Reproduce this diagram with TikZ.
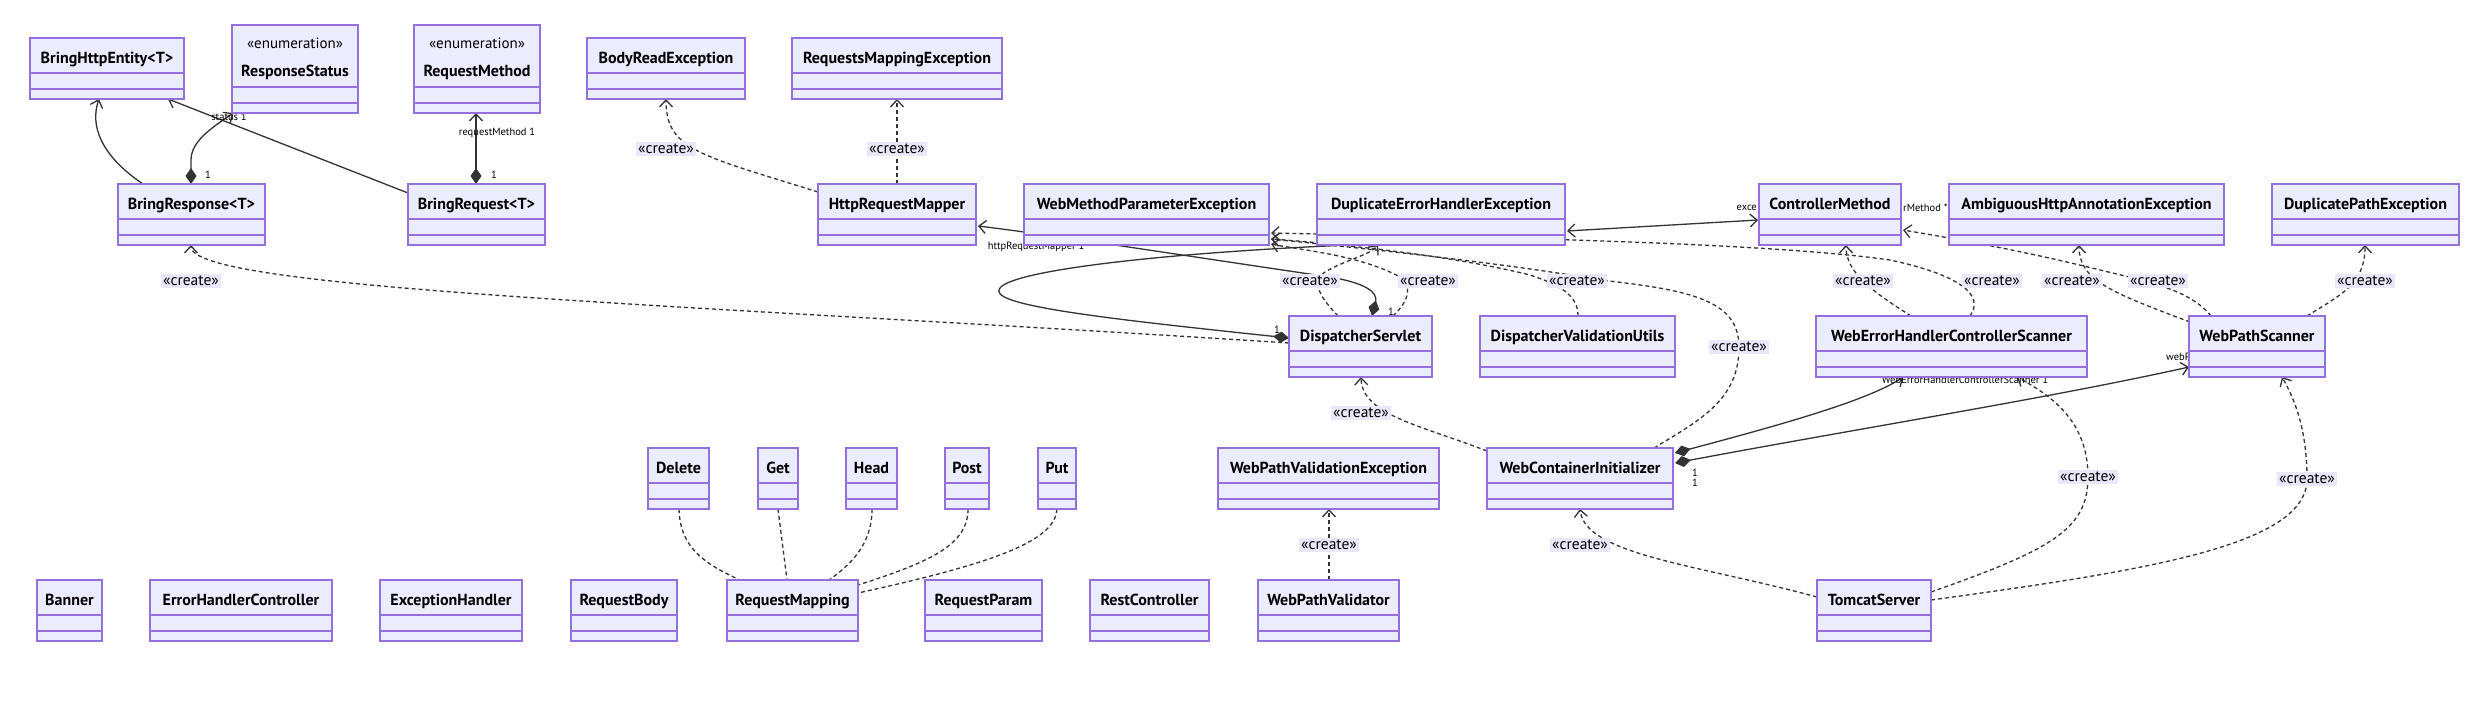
\documentclass[tikz,border=0pt]{standalone}
\usepackage{fontspec}
\setmainfont{PT Sans}
\usetikzlibrary{arrows.meta,calc,backgrounds}
\definecolor{nodefill}{HTML}{ECECFF}
\definecolor{nodeborder}{HTML}{9370DB}
\definecolor{edgecol}{HTML}{333333}
\definecolor{lblfill}{HTML}{E8E8FA}
\pgfdeclarelayer{edges}
\pgfsetlayers{background,edges,main}
\tikzset{
  classbox/.style={draw=nodeborder, fill=nodefill, line width=1.6pt, inner sep=0pt, outer sep=0pt},
  classsep/.style={draw=nodeborder, line width=1.6pt},
  classtitle/.style={font=\fontsize{16}{19}\selectfont\bfseries, text=black, anchor=base, inner sep=0pt},
  stereo/.style={font=\fontsize{15}{18}\selectfont, text=black, anchor=base, inner sep=0pt},
  edgeline/.style={draw=edgecol, line width=1.3pt},
  assoc/.style={edgeline, -{Straight Barb[length=7pt,width=13pt]}},
  comp/.style={edgeline, {Diamond[length=16pt,width=11pt,fill=edgecol]}-{Straight Barb[length=7pt,width=13pt]}},
  compstart/.style={edgeline, {Diamond[length=16pt,width=11pt,fill=edgecol]}-},
  twoway/.style={edgeline, {Straight Barb[length=7pt,width=13pt]}-{Straight Barb[length=7pt,width=13pt]}},
  dep/.style={edgeline, dash pattern=on 4pt off 3pt, -{Straight Barb[length=7pt,width=13pt]}},
  link/.style={edgeline, dash pattern=on 4pt off 3pt},
  createlbl/.style={fill=lblfill, font=\fontsize{15.5}{17}\selectfont, text=black, inner xsep=2pt, inner ysep=2pt},
  card/.style={font=\fontsize{10.5}{12}\selectfont, text=black, inner sep=0pt},
}
\newcommand{\umlclass}[6]{%
  \node[classbox, minimum width={(#4)-(#2)}, minimum height={(#5)-(#3)}] (#1) at ({((#2)+(#4))/2},{((#3)+(#5))/2}) {};
  \node[classtitle] (#1-t) at ({((#2)+(#4))/2},{(#3)+25}) {#6};
  \draw[classsep] (#2,{(#5)-26}) -- (#4,{(#5)-26}) (#2,{(#5)-10}) -- (#4,{(#5)-10});
}
\newcommand{\umlenum}[6]{%
  \node[classbox, minimum width={(#4)-(#2)}, minimum height={(#5)-(#3)}] (#1) at ({((#2)+(#4))/2},{((#3)+(#5))/2}) {};
  \node[stereo] (#1-s) at ({((#2)+(#4))/2},{(#3)+23}) {«enumeration»};
  \node[classtitle] (#1-t) at ({((#2)+(#4))/2},{(#3)+51}) {#6};
  \draw[classsep] (#2,{(#5)-26}) -- (#4,{(#5)-26}) (#2,{(#5)-10}) -- (#4,{(#5)-10});
}
\begin{document}
\begin{tikzpicture}[x=1pt,y=-1pt]
\begin{pgfonlayer}{background}
\fill[white] (0,0) rectangle (2484,712);
\end{pgfonlayer}
\useasboundingbox (0,0) rectangle (2484,712);

% ---------- classes ----------
\umlclass{bhe}{30}{38}{184}{99}{BringHttpEntity<T>}
\umlenum{rs}{232}{25}{358}{113}{ResponseStatus}
\umlenum{rm}{414}{25}{540}{113}{RequestMethod}
\umlclass{bre}{587}{38}{745}{99}{BodyReadException}
\umlclass{rme}{792}{38}{1002}{99}{RequestsMappingException}
\umlclass{bresp}{118}{184}{265}{245}{BringResponse<T>}
\umlclass{breq}{408}{184}{545}{245}{BringRequest<T>}
\umlclass{hrm}{818}{184}{976}{245}{HttpRequestMapper}
\umlclass{wmpe}{1024}{184}{1269}{245}{WebMethodParameterException}
\umlclass{dehe}{1317}{184}{1565}{245}{DuplicateErrorHandlerException}
\umlclass{cm}{1759}{184}{1901}{245}{ControllerMethod}
\umlclass{ahae}{1949}{184}{2224}{245}{AmbiguousHttpAnnotationException}
\umlclass{dpe}{2272}{184}{2459}{245}{DuplicatePathException}
\umlclass{ds}{1289}{316}{1432}{377}{DispatcherServlet}
\umlclass{dvu}{1480}{316}{1675}{377}{DispatcherValidationUtils}
\umlclass{wehcs}{1816}{316}{2087}{377}{WebErrorHandlerControllerScanner}
\umlclass{wps}{2189}{316}{2325}{377}{WebPathScanner}
\umlclass{del}{648}{448}{709}{509}{Delete}
\umlclass{get}{758}{448}{798}{509}{Get}
\umlclass{head}{846}{448}{897}{509}{Head}
\umlclass{post}{945}{448}{989}{509}{Post}
\umlclass{put}{1038}{448}{1076}{509}{Put}
\umlclass{wpve}{1218}{448}{1439}{509}{WebPathValidationException}
\umlclass{wci}{1487}{448}{1673}{509}{WebContainerInitializer}
\umlclass{banner}{37}{580}{102}{641}{Banner}
\umlclass{ehc}{150}{580}{332}{641}{ErrorHandlerController}
\umlclass{eh}{380}{580}{522}{641}{ExceptionHandler}
\umlclass{rb}{571}{580}{677}{641}{RequestBody}
\umlclass{rmap}{727}{580}{858}{641}{RequestMapping}
\umlclass{rp}{925}{580}{1042}{641}{RequestParam}
\umlclass{rc}{1090}{580}{1209}{641}{RestController}
\umlclass{wpv}{1258}{580}{1399}{641}{WebPathValidator}
\umlclass{ts}{1817}{580}{1931}{641}{TomcatServer}

% ---------- connectors (drawn below the classes) ----------
\begin{pgfonlayer}{edges}
\draw[assoc] ($(bresp.north west)+(25,0)$) .. controls (100,155) and (90,125) .. ($(bhe.south west)+(69,0)$);
\draw[assoc] ($(breq.north west)+(0,9)$) -- ($(bhe.south west)+(138,0)$);
\draw[comp] ($(bresp.north west)+(73,0)$) -- (191,160) .. controls (191,140) and (215,126) .. ($(rs.south west)+(1,0)$);
\draw[comp] ($(breq.north west)+(68,0)$) -- ($(rm.south west)+(62,0)$);
\draw[dep] ($(hrm.north west)+(0,8)$) .. controls (700,155) and (666,150) .. ($(bre.south west)+(79,0)$);
\draw[dep] ($(hrm.north west)+(79,0)$) -- ($(rme.south west)+(105,0)$);
\draw[dep] ($(ds.north west)+(0,27)$) .. controls (700,305) and (191,290) .. ($(bresp.south west)+(73,0)$);
\draw[comp] ($(ds.north west)+(83,0)$) .. controls (1378,292) and (1365,283) .. (1330,277) .. controls (1200,258) and (1060,236) .. ($(hrm.north east)+(2,42)$);
\draw[compstart] ($(ds.north west)+(0,22)$) .. controls (1100,318) and (985,305) .. (1000,288) .. controls (1015,268) and (1200,250) .. ($(dehe.south west)+(60,-1)$);
\draw[twoway] ($(dehe.north east)+(2,47)$) -- ($(cm.north west)+(-1,36)$);
\draw[dep] ($(wehcs.north west)+(95,0)$) .. controls (1870,290) and (1846,272) .. ($(cm.south west)+(87,0)$);
\draw[dep] ($(wehcs.north west)+(154,0)$) .. controls (1985,295) and (1960,275) .. (1890,260) .. controls (1750,240) and (1400,236) .. ($(wmpe.north east)+(2,49)$);
\draw[dep] ($(wps.north west)+(22,0)$) .. controls (2190,290) and (2150,282) .. (2100,270) .. controls (2020,250) and (1950,238) .. ($(cm.north east)+(2,46)$);
\draw[dep] ($(wps.north west)+(1,6)$) .. controls (2110,292) and (2079,280) .. ($(ahae.south west)+(130,0)$);
\draw[dep] ($(wps.north west)+(118,0)$) .. controls (2340,295) and (2365,285) .. ($(dpe.south west)+(93,0)$);
\draw[dep] ($(ds.north west)+(49,0)$) .. controls (1318,295) and (1312,282) .. (1325,272) .. controls (1345,260) and (1370,255) .. ($(dehe.south west)+(61,0)$);
\draw[dep] ($(ds.north west)+(104,0)$) .. controls (1410,300) and (1412,285) .. (1400,277) .. controls (1360,255) and (1300,250) .. ($(wmpe.north east)+(2,60)$);
\draw[dep] ($(dvu.north west)+(98,0)$) .. controls (1578,295) and (1560,285) .. (1530,275) .. controls (1450,255) and (1330,243) .. ($(wmpe.north east)+(2,55)$);
\draw[dep] ($(wci.north west)+(167,0)$) .. controls (1700,420) and (1739,400) .. (1739,347) .. controls (1739,300) and (1690,290) .. (1600,280) .. controls (1500,262) and (1330,245) .. ($(wmpe.north east)+(2,55)$);
\draw[dep] ($(wci.north west)+(0,3)$) .. controls (1420,425) and (1362,415) .. ($(ds.south west)+(72,0)$);
\draw[comp] ($(wci.north east)+(2,5)$) .. controls (1780,425) and (1870,400) .. ($(wehcs.south west)+(87,0)$);
\draw[comp] ($(wci.north east)+(2,15)$) .. controls (1850,430) and (2050,398) .. ($(wps.north west)+(0,51)$);
\draw[dep] ($(wpv.north west)+(71,0)$) -- ($(wpve.south west)+(111,0)$);
\draw[dep] ($(ts.north west)+(0,17)$) .. controls (1700,565) and (1585,555) .. ($(wci.south west)+(93,0)$);
\draw[dep] ($(ts.north east)+(0,12)$) .. controls (2050,550) and (2088,530) .. (2088,477) .. controls (2088,420) and (2050,395) .. ($(wehcs.south west)+(201,0)$);
\draw[dep] ($(ts.north east)+(0,20)$) .. controls (2150,570) and (2307,545) .. (2307,479) .. controls (2307,430) and (2295,400) .. ($(wps.south west)+(93,0)$);
\draw[link] ($(del.south west)+(31,0)$) .. controls (680,545) and (700,562) .. ($(rmap.north west)+(13,0)$);
\draw[link] ($(get.south west)+(20,0)$) -- ($(rmap.north west)+(60,0)$);
\draw[link] ($(head.south west)+(26,0)$) .. controls (872,545) and (850,565) .. ($(rmap.north west)+(102,0)$);
\draw[link] ($(post.south west)+(23,0)$) .. controls (968,545) and (930,562) .. ($(rmap.north east)+(0,5)$);
\draw[link] ($(put.south west)+(19,0)$) .. controls (1055,540) and (1000,562) .. ($(rmap.north east)+(0,13)$);
% multiplicity labels
\node[card] (k1) at (229,117) {status 1};
\node[card] (k2) at (208,175) {1};
\node[card] (k3) at (497,133) {requestMethod 1};
\node[card] (k4) at (494,175) {1};
\node[card] (k5) at (1036,247) {httpRequestMapper 1};
\node[card] (k6) at (1391,312) {1};
\node[card] (k7) at (1277,330) {1};
\node[card, anchor=east] (k8) at (1757,208) {exce};
\node[card, anchor=west] (k9) at (1903,208) {rMethod *};
\node[card] (k10) at (1965,380) {WebErrorHandlerControllerScanner 1};
\node[card, anchor=west] (k11) at (2166,357) {webPathScanner 1};
\node[card] (k12) at (1695,473) {1};
\node[card] (k13) at (1695,483) {1};
\end{pgfonlayer}

% ---------- <<create>> labels ----------
\node[createlbl] (c1) at (191,281) {«create»};
\node[createlbl] (c2) at (666,149) {«create»};
\node[createlbl] (c3) at (897,149) {«create»};
\node[createlbl] (c4) at (1310,281) {«create»};
\node[createlbl] (c5) at (1428,281) {«create»};
\node[createlbl] (c6) at (1577,281) {«create»};
\node[createlbl] (c7) at (1739,347) {«create»};
\node[createlbl] (c8) at (1863,281) {«create»};
\node[createlbl] (c9) at (1992,281) {«create»};
\node[createlbl] (c10) at (2072,281) {«create»};
\node[createlbl] (c11) at (2158,281) {«create»};
\node[createlbl] (c12) at (2365,281) {«create»};
\node[createlbl] (c13) at (1361,413) {«create»};
\node[createlbl] (c14) at (1329,545) {«create»};
\node[createlbl] (c15) at (1580,545) {«create»};
\node[createlbl] (c16) at (2088,477) {«create»};
\node[createlbl] (c17) at (2307,479) {«create»};
\end{tikzpicture}
\end{document}
